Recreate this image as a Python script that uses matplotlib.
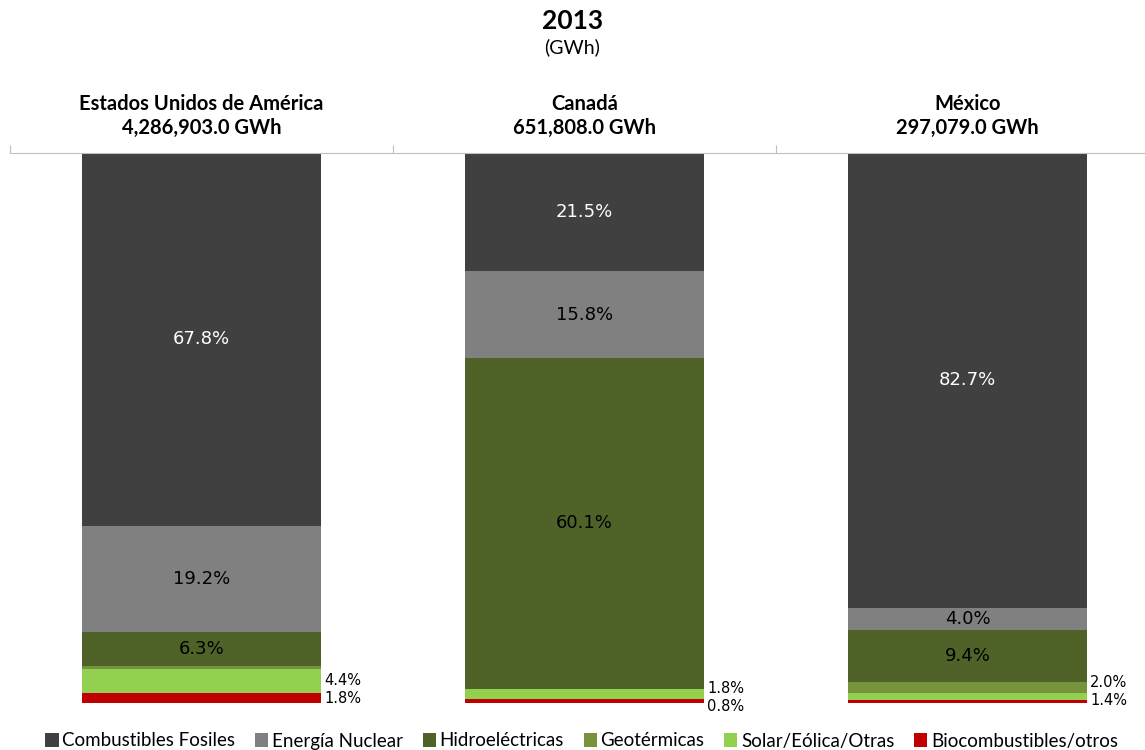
import matplotlib.pyplot as plt
import numpy as np

# datos (% de generación por fuente)
paises = ["Estados Unidos de América", "Canadá", "México"]
totales = ["4,286,903.0 GWh", "651,808.0 GWh", "297,079.0 GWh"]
fuentes = ["Combustibles Fosiles", "Energía Nuclear", "Hidroeléctricas",
           "Geotérmicas", "Solar/Eólica/Otras", "Biocombustibles/otros"]
fosiles = [67.8, 21.5, 82.7]
nuclear = [19.2, 15.8, 4.0]
hidro = [6.3, 60.1, 9.4]
geotermicas = [0.5, 0.0, 2.0]
solar = [4.4, 1.8, 1.4]
bio = [1.8, 0.8, 0.5]
colores = ["#404040", "#808080", "#4F6228", "#77933C", "#92D050", "#C00000"]

# 0 = sin etiqueta, 1 = dentro de la barra, 2 = a la derecha
etiqueta = [
    [1, 1, 1, 0, 2, 2],
    [1, 1, 1, 0, 2, 2],
    [1, 1, 1, 2, 2, 0],
]

series = [fosiles, nuclear, hidro, geotermicas, solar, bio]
# se apila de abajo hacia arriba: bio primero
orden = [5, 4, 3, 2, 1, 0]

fig = plt.figure(figsize=(11.45, 7.5), dpi=100)
ax = fig.add_axes([10 / 1145, 47 / 750, 1149 / 1145, 550 / 750])

x = np.arange(len(paises))
ancho = 0.625
base = np.zeros(len(paises))
centros = {}
for k in orden:
    vals = np.array(series[k])
    ax.bar(x, vals, width=ancho, bottom=base, color=colores[k],
           edgecolor="none", label=fuentes[k])
    centros[k] = base + vals / 2
    base = base + vals

# etiquetas dentro de las barras
for i in range(len(paises)):
    for k in range(6):
        if etiqueta[i][k] != 1:
            continue
        v = series[k][i]
        col = "white" if k == 0 else "black"
        ax.text(x[i], centros[k][i], f"{v:.1f}%", ha="center", va="center",
                fontsize=13, color=col)

# etiquetas chicas a la derecha (separadas para que no se encimen)
for i in range(len(paises)):
    peque = [k for k in range(6) if etiqueta[i][k] == 2]
    ys = [centros[k][i] for k in peque]
    if len(ys) == 2 and ys[0] - ys[1] < 3.2:
        mid = (ys[0] + ys[1]) / 2
        ys = [mid + 1.6, mid - 1.6]
    for k, yy in zip(peque, ys):
        ax.text(x[i] + ancho / 2 + 0.008, yy, f"{series[k][i]:.1f}%",
                ha="left", va="center", fontsize=10.5, color="black")

# encabezados por país
for i in range(len(paises)):
    ax.text(x[i], 1.089, paises[i], transform=ax.get_xaxis_transform(),
            ha="center", va="center", fontsize=14.5, fontweight="bold",
            family="Lato")
    ax.text(x[i], 1.045, totales[i], transform=ax.get_xaxis_transform(),
            ha="center", va="center", fontsize=14.5, fontweight="bold",
            family="Lato")

ax.set_xlim(-0.5, 2.5)
ax.set_ylim(0, 100)
for s in ["left", "right", "bottom"]:
    ax.spines[s].set_visible(False)
ax.spines["top"].set_color("#BFBFBF")
ax.set_yticks([])
ax.xaxis.tick_top()
ax.set_xticks([-0.5, 0.5, 1.5, 2.5])
ax.set_xticklabels([])
ax.tick_params(axis="x", direction="out", length=6, color="#BFBFBF")

fig.text(0.5, 1 - 21 / 750, "2013", ha="center", va="center",
         fontsize=19, fontweight="bold", family="Lato")
fig.text(0.5, 1 - 47 / 750, "(GWh)", ha="center", va="center",
         fontsize=14, family="Lato")

handles, labels = ax.get_legend_handles_labels()
orden_leg = [labels.index(f) for f in fuentes]
fig.legend([handles[j] for j in orden_leg], [labels[j] for j in orden_leg],
           loc="center", bbox_to_anchor=(0.508, 1 - 741 / 750), ncol=6,
           frameon=False, handlelength=0.7, handleheight=0.7,
           handletextpad=0.2, columnspacing=1.05,
           prop={"family": "Lato", "size": 13.5})

fig.savefig("out.png", dpi=100)
